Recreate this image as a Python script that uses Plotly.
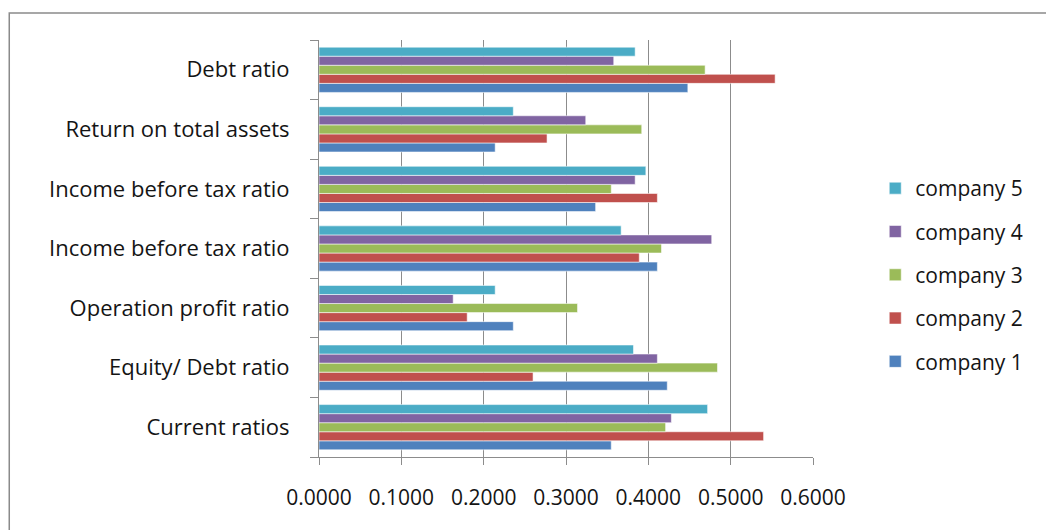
import plotly.graph_objects as go

# Financial ratios per company, categories listed bottom to top
categories = [
    "Current ratios",
    "Equity/ Debt ratio",
    "Operation profit ratio",
    "Income before tax ratio",
    "Income before tax ratio",
    "Return on total assets",
    "Debt ratio",
]
company_1 = [0.355, 0.423, 0.236, 0.411, 0.336, 0.214, 0.448]
company_2 = [0.540, 0.260, 0.180, 0.389, 0.411, 0.277, 0.554]
company_3 = [0.421, 0.484, 0.314, 0.416, 0.355, 0.392, 0.469]
company_4 = [0.428, 0.411, 0.163, 0.477, 0.384, 0.324, 0.358]
company_5 = [0.472, 0.382, 0.214, 0.367, 0.397, 0.236, 0.384]

series_names = ["company 1", "company 2", "company 3", "company 4", "company 5"]
series_values = [company_1, company_2, company_3, company_4, company_5]
series_colors = ["#4F81BD", "#C0504D", "#9BBB59", "#8064A2", "#4BACC6"]

x_ticks = [0.0, 0.1, 0.2, 0.3, 0.4, 0.5, 0.6]

FONT = "Open Sans"
TEXT = "#141414"
GRID = "#8c8c8c"

positions = list(range(len(categories)))

fig = go.Figure()
n = len(series_names)
for i, (name, vals, col) in enumerate(zip(series_names, series_values, series_colors)):
    fig.add_trace(go.Bar(
        x=vals, y=positions, name=name, orientation="h",
        legendgroup=name, legendrank=n - i,
        marker=dict(color=col, line=dict(color="rgba(255,255,255,0.55)", width=1)),
    ))

fig.update_layout(
    width=1046, height=530,
    margin=dict(l=319, r=233, t=40, b=73, autoexpand=False),
    paper_bgcolor="white", plot_bgcolor="white",
    barmode="group", bargap=0.24, bargroupgap=0,
    font=dict(family=FONT, size=21, color=TEXT),
    showlegend=True,
    legend=dict(
        x=1.126, xanchor="left", y=0.693, yanchor="top",
        traceorder="grouped", tracegroupgap=13,
        font=dict(family=FONT, size=21, color=TEXT),
        bgcolor="rgba(0,0,0,0)", itemwidth=30,
    ),
    xaxis=dict(
        range=[0, 0.6], tickvals=x_ticks, tickformat=".4f",
        showgrid=True, gridcolor=GRID, gridwidth=1,
        showline=True, linecolor=GRID, linewidth=1,
        ticks="outside", ticklen=7, tickcolor=GRID,
        ticklabelstandoff=15, zeroline=False,
        tickfont=dict(size=21),
    ),
    yaxis=dict(
        range=[-0.5, len(categories) - 0.5],
        tickmode="array", tickvals=positions, ticktext=categories,
        showgrid=False, zeroline=False,
        showline=True, linecolor=GRID, linewidth=1,
        ticks="", ticklabelstandoff=24,
        tickfont=dict(size=22),
        minor=dict(tickmode="linear", tick0=-0.5, dtick=1,
                   ticks="outside", ticklen=8, tickcolor=GRID, showgrid=False),
    ),
)

# Outer chart frame (runs past the right and bottom edges)
fig.add_shape(type="rect", xref="paper", yref="paper",
              x0=-0.627, x1=1.5, y0=-0.2, y1=1.065,
              line=dict(color="#8a8a8a", width=1.5), fillcolor="rgba(0,0,0,0)",
              layer="below")

fig.write_html("out.html")
